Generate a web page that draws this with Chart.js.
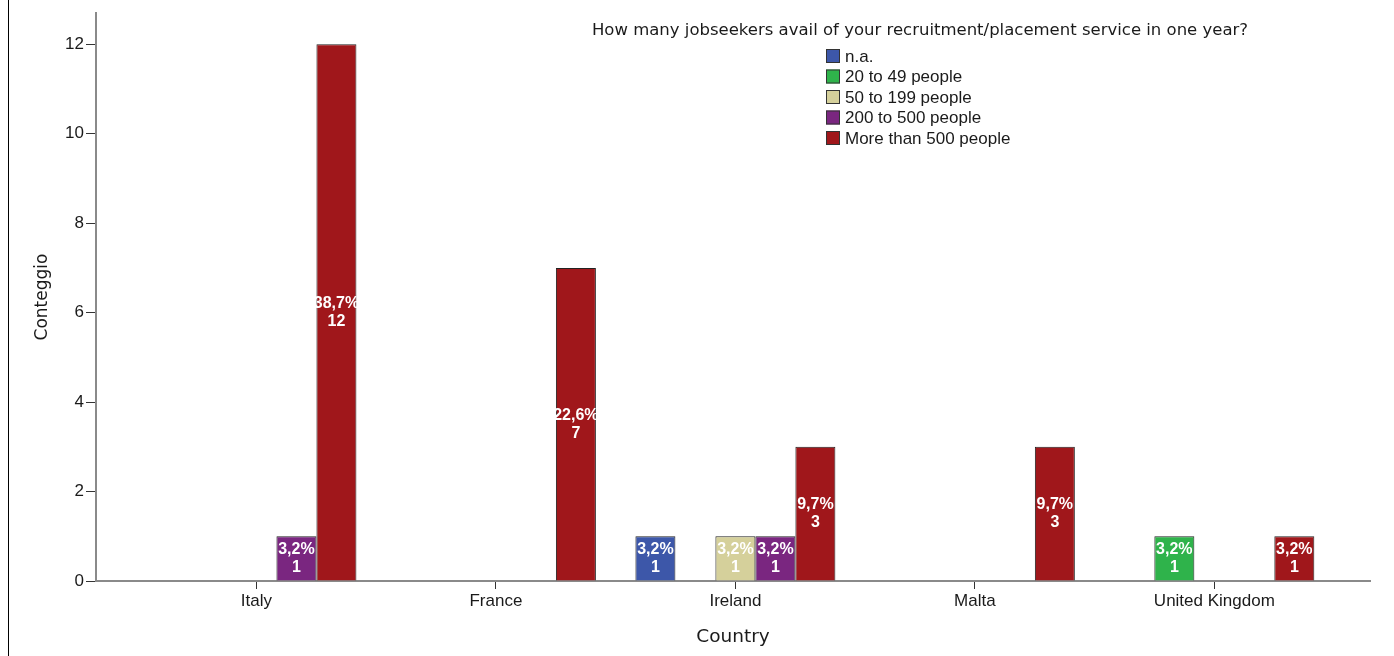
<!DOCTYPE html>
<html>
<head>
<meta charset="utf-8">
<script src="https://cdn.jsdelivr.net/npm/chart.js@4/dist/chart.umd.min.js"></script>
<style>
  html, body { margin: 0; padding: 0; background: #fff; }
  #wrap { position: relative; width: 1394px; height: 656px; }
  #frame { position: absolute; left: 8px; top: 0; width: 1px; height: 656px; background: #000; }
</style>
</head>
<body>
<div id="wrap">
  <canvas id="chart" width="1394" height="656"></canvas>
  <div id="frame"></div>
</div>
<script>
// Data
const countries = ['Italy', 'France', 'Ireland', 'Malta', 'United Kingdom'];
const seriesNames = ['n.a.', '20 to 49 people', '50 to 199 people', '200 to 500 people', 'More than 500 people'];
const naValues = [0, 0, 1, 0, 0];
const p20to49 = [0, 0, 0, 0, 1];
const p50to199 = [0, 0, 1, 0, 0];
const p200to500 = [1, 0, 1, 0, 0];
const pOver500 = [12, 7, 3, 3, 1];
const yTicks = [0, 2, 4, 6, 8, 10, 12];
const legendTitle = 'How many jobseekers avail of your recruitment/placement service in one year?';

const colors = ['#3d57a9', '#2fb34b', '#d5d09b', '#7a2680', '#a0171b'];
const allSeries = [naValues, p20to49, p50to199, p200to500, pOver500];
const total = allSeries.flat().reduce((a, b) => a + b, 0);

const datasets = allSeries.map((vals, k) => ({
  label: seriesNames[k],
  data: vals.map((v, i) => ({ x: i, y: v > 0 ? v : null })),
  backgroundColor: colors[k],
  borderColor: '#222',
  borderWidth: 1,
  borderSkipped: 'bottom',
  categoryPercentage: 0.835,
  barPercentage: 1.0
}));

// White percentage / count labels inside the bars
const barLabels = {
  id: 'barLabels',
  afterDatasetsDraw(chart) {
    const ctx = chart.ctx;
    ctx.save();
    ctx.fillStyle = '#fff';
    ctx.font = 'bold 16px "Liberation Sans", Arial, sans-serif';
    ctx.textAlign = 'center';
    ctx.textBaseline = 'middle';
    chart.data.datasets.forEach((ds, k) => {
      const meta = chart.getDatasetMeta(k);
      allSeries[k].forEach((v, i) => {
        if (!v) return;
        const bar = meta.data[i];
        const cy = (bar.y + bar.base) / 2;
        const pct = (v / total * 100).toFixed(1).replace('.', ',') + '%';
        ctx.fillText(pct, bar.x, cy - 9);
        ctx.fillText(String(v), bar.x, cy + 9);
      });
    });
    ctx.restore();
  }
};

// Legend box with title, drawn in the upper right
const boxLegend = {
  id: 'boxLegend',
  afterDraw(chart) {
    const ctx = chart.ctx;
    ctx.save();
    ctx.fillStyle = '#1a1a1a';
    ctx.textBaseline = 'middle';
    ctx.textAlign = 'center';
    ctx.font = '16.5px "DejaVu Sans", sans-serif';
    ctx.fillText(legendTitle, 920, 31);
    ctx.textAlign = 'left';
    ctx.font = '17px "Liberation Sans", Arial, sans-serif';
    seriesNames.forEach((name, k) => {
      const y = 56 + k * 20.5;
      ctx.fillStyle = colors[k];
      ctx.fillRect(826, y - 7, 14, 14);
      ctx.strokeStyle = '#333';
      ctx.lineWidth = 1;
      ctx.strokeRect(826.5, y - 6.5, 13, 13);
      ctx.fillStyle = '#1a1a1a';
      ctx.fillText(name, 845, y + 1);
    });
    ctx.restore();
  }
};

new Chart(document.getElementById('chart'), {
  type: 'bar',
  data: { datasets },
  plugins: [barLabels, boxLegend],
  options: {
    responsive: false,
    animation: false,
    layout: { padding: { left: 0, right: 24, top: 13, bottom: 0 } },
    plugins: {
      legend: { display: false },
      tooltip: { enabled: false }
    },
    scales: {
      x: {
        type: 'linear',
        offset: false,
        min: -0.67,
        max: 4.65,
        afterBuildTicks: s => { s.ticks = countries.map((c, i) => ({ value: i })); },
        afterFit: s => { s.height = 75; },
        ticks: {
          autoSkip: false,
          maxRotation: 0,
          color: '#1a1a1a',
          font: { size: 17, family: '"Liberation Sans", Arial, sans-serif' },
          padding: 2,
          callback: v => countries[v]
        },
        grid: { display: true, offset: false, drawOnChartArea: false, drawTicks: true, tickLength: 8, tickColor: '#333' },
        border: { display: true, color: '#8a8a8a', width: 2 },
        title: {
          display: true,
          text: 'Country',
          color: '#1a1a1a',
          font: { size: 18.5, family: '"DejaVu Sans", sans-serif' },
          padding: { top: 4, bottom: 8 }
        }
      },
      y: {
        min: 0,
        max: 12.7,
        afterBuildTicks: s => { s.ticks = yTicks.map(v => ({ value: v })); },
        afterFit: s => { s.width = 96; },
        ticks: {
          color: '#1a1a1a',
          font: { size: 17, family: '"Liberation Sans", Arial, sans-serif' },
          padding: 2
        },
        grid: { display: true, drawOnChartArea: false, drawTicks: true, tickLength: 10, tickColor: '#333' },
        border: { display: true, color: '#8a8a8a', width: 2 },
        title: {
          display: true,
          text: 'Conteggio',
          color: '#1a1a1a',
          font: { size: 17, family: '"DejaVu Sans", sans-serif' },
          padding: { top: 32, bottom: 0 }
        }
      }
    }
  }
});
</script>
</body>
</html>
